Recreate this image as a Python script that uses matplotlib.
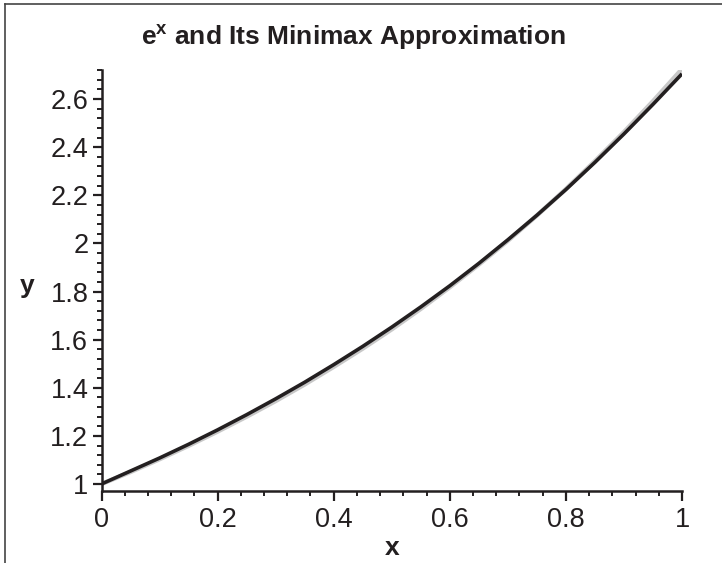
import matplotlib
matplotlib.use("Agg")
import matplotlib.pyplot as plt
from matplotlib.lines import Line2D
from matplotlib.ticker import MultipleLocator, FuncFormatter

# values, x = 0 .. 1 in steps of 0.05
xs = [0.00, 0.05, 0.10, 0.15, 0.20, 0.25, 0.30, 0.35, 0.40, 0.45, 0.50,
      0.55, 0.60, 0.65, 0.70, 0.75, 0.80, 0.85, 0.90, 0.95, 1.00]
gray_y = [1.000, 1.050, 1.103, 1.159, 1.218, 1.280, 1.345, 1.414, 1.487, 1.563, 1.643,
          1.728, 1.818, 1.912, 2.011, 2.116, 2.226, 2.342, 2.463, 2.591, 2.725]
black_y = [1.000, 1.054, 1.108, 1.165, 1.225, 1.288, 1.354, 1.423, 1.496, 1.572, 1.652,
           1.736, 1.824, 1.917, 2.015, 2.117, 2.224, 2.337, 2.455, 2.578, 2.705]

x_ticks = [0, 0.2, 0.4, 0.6, 0.8, 1]
y_ticks = [1, 1.2, 1.4, 1.6, 1.8, 2, 2.2, 2.4, 2.6]

plt.rcParams['font.family'] = ['Liberation Sans', 'DejaVu Sans']
ink = '#231f20'

fig = plt.figure(figsize=(7.22, 5.63), dpi=100)
ax = fig.add_axes([0.1406, 0.1275, 0.804, 0.7478])

ax.plot(xs, gray_y, color='#c8c8c8', lw=3.2, solid_capstyle='butt', zorder=2)
ax.plot(xs, black_y, color=ink, lw=2.6, solid_capstyle='butt', zorder=3)

ax.set_xlim(0, 1)
ax.set_ylim(0.97, 2.72)

for s in ['top', 'right']:
    ax.spines[s].set_visible(False)
for s in ['left', 'bottom']:
    ax.spines[s].set_color(ink)
    ax.spines[s].set_linewidth(1.8)

fmt = FuncFormatter(lambda v, p: ('%g' % round(v, 2)))
ax.set_xticks(x_ticks)
ax.set_yticks(y_ticks)
ax.xaxis.set_major_formatter(fmt)
ax.yaxis.set_major_formatter(fmt)
ax.xaxis.set_minor_locator(MultipleLocator(0.04))
ax.yaxis.set_minor_locator(MultipleLocator(0.04))

ax.tick_params(axis='x', which='major', direction='out', length=7.5, width=1.6,
               color=ink, labelsize=19.5, pad=4, labelcolor=ink)
ax.tick_params(axis='x', which='minor', direction='out', length=3.8, width=1.4, color=ink)
ax.tick_params(axis='y', which='major', direction='out', length=6.5, width=1.6,
               color=ink, labelsize=19.5, pad=3, labelcolor=ink)
ax.tick_params(axis='y', which='minor', direction='out', length=3.6, width=1.4, color=ink)

fig.text(0.489, 0.92, r'e$^{\mathregular{x}}$ and Its Minimax Approximation',
         ha='center', va='baseline', fontsize=19, fontweight='bold', color=ink)
fig.text(0.543, 0.015, 'x', ha='center', va='baseline', fontsize=19,
         fontweight='bold', color=ink)
fig.text(0.037, 0.48, 'y', ha='center', va='baseline', fontsize=19,
         fontweight='bold', color=ink)

# frame around the picture (only top and left edges are visible in the crop)
fig.add_artist(Line2D([0.007, 1.0], [0.993, 0.993], transform=fig.transFigure,
                      color='#444444', lw=1.2))
fig.add_artist(Line2D([0.007, 0.007], [0.0, 0.993], transform=fig.transFigure,
                      color='#444444', lw=1.2))

fig.savefig('out.png', dpi=100)
